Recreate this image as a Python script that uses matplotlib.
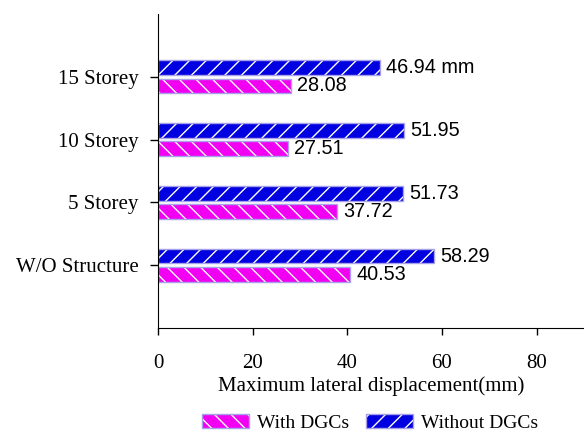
import matplotlib
matplotlib.use('Agg')
import matplotlib.pyplot as plt
from matplotlib.patches import Patch
import numpy as np

# values
categories = ['W/O Structure', '5 Storey', '10 Storey', '15 Storey']
with_dgc = [40.53, 37.72, 27.51, 28.08]
without_dgc = [58.29, 51.73, 51.95, 46.94]
without_labels = ['58.29', '51.73', '51.95', '46.94 mm']
with_labels = ['40.53', '37.72', '27.51', '28.08']
xticks = [0, 20, 40, 60, 80]

magenta = '#f200f2'
blue = '#0000e0'
edge = '#a8a0e8'

plt.rcParams['hatch.linewidth'] = 1.0
serif = 'Liberation Serif'
sans = 'Liberation Sans'

fig = plt.figure(figsize=(5.84, 4.32), dpi=100)
ax = fig.add_axes([0.2705, 0.2407, 0.7295, 0.727])

y = np.arange(len(categories))
h = 0.23
off = 0.145


def hatched_barh(ypos, vals, color, hatch):
    ax.barh(ypos, vals, h, color=color, edgecolor='none')
    ax.barh(ypos, vals, h, fill=False, hatch=hatch, edgecolor='white', linewidth=0)
    ax.barh(ypos, vals, h, fill=False, edgecolor=edge, linewidth=1.0)


hatched_barh(y + off, without_dgc, blue, '//')
hatched_barh(y - off, with_dgc, magenta, '\\\\')

for yi, v, s in zip(y, without_dgc, without_labels):
    ax.annotate(s, (v, yi + off), xytext=(4.5, 0), textcoords='offset points',
                va='center', ha='left', fontsize=14.3, family=sans)
for yi, v, s in zip(y, with_dgc, with_labels):
    ax.annotate(s, (v, yi - off), xytext=(4.5, 0), textcoords='offset points',
                va='center', ha='left', fontsize=14.3, family=sans)

ax.set_xlim(0, 90)
ax.set_ylim(-1, 4)
ax.set_xticks(xticks)
ax.set_yticks(y)
ax.set_yticklabels(categories)
ax.spines['top'].set_visible(False)
ax.spines['right'].set_visible(False)
ax.tick_params(axis='x', length=5, width=1, pad=14, labelsize=15)
ax.tick_params(axis='y', length=5.5, width=1, pad=8.5, labelsize=15)
for lab in ax.get_xticklabels() + ax.get_yticklabels():
    lab.set_family(serif)
ax.set_xlabel('Maximum lateral displacement(mm)', fontsize=15, family=serif, labelpad=2)

h_with = (Patch(facecolor=magenta, edgecolor='none'),
          Patch(fill=False, hatch='\\\\', edgecolor='white', linewidth=0),
          Patch(fill=False, edgecolor=edge, linewidth=1.0))
h_without = (Patch(facecolor=blue, edgecolor='none'),
             Patch(fill=False, hatch='//', edgecolor='white', linewidth=0),
             Patch(fill=False, edgecolor=edge, linewidth=1.0))
fig.legend([h_with, h_without], ['With DGCs', 'Without DGCs'], ncol=2,
           loc='center', bbox_to_anchor=(370 / 584, 1 - 423 / 432), frameon=False,
           prop={'family': serif, 'size': 14}, handlelength=2.4, handleheight=0.7,
           handletextpad=0.4, columnspacing=0.9, borderpad=0)

fig.savefig('out.png', dpi=100)
